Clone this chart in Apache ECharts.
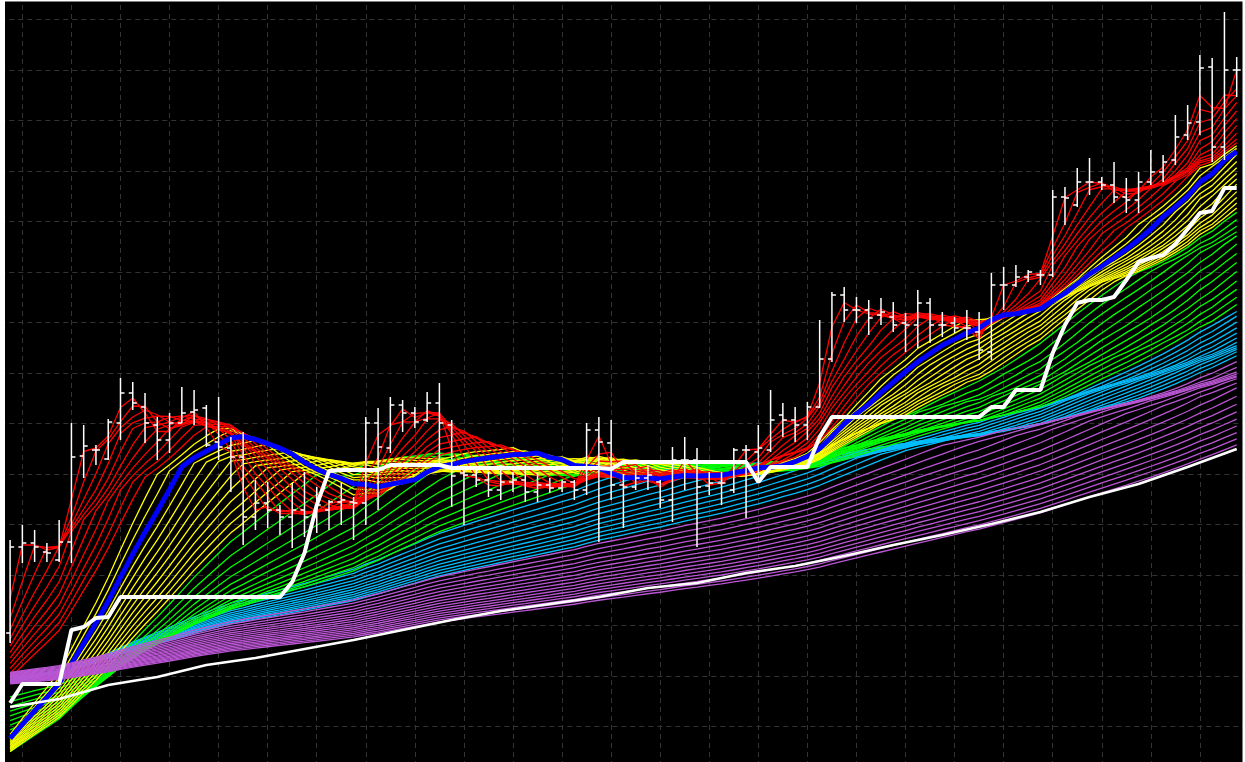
<!DOCTYPE html>
<html>
<head>
<meta charset="utf-8">
<title>Rainbow moving averages</title>
<script src="https://cdn.jsdelivr.net/npm/echarts@6/dist/echarts.min.js"></script>
<style>
  html, body { margin: 0; padding: 0; background: #fff; }
  #chart { width: 1245px; height: 762px; }
</style>
</head>
<body>
<div id="chart"></div>
<script>
// price bars, one entry per bar (price units, higher = up)
const OPEN = [
  167,253,257,248,240,258,344,350,341,377,
  407,393,375,360,377,388,392,358,352,343,
  283,297,290,283,290,283,290,298,298,297,
  377,352,395,387,380,397,375,327,325,320,
  310,318,320,308,315,312,318,310,370,357,
  315,313,322,318,300,340,340,314,317,310,
  350,348,350,385,380,375,393,441,505,490,
  490,485,483,477,475,497,475,477,472,468,
  448,515,515,523,525,525,603,595,618,618,
  615,603,600,618,628,640,665,678,733,653,
  730];
const HIGH = [
  260,275,270,257,280,377,375,355,381,422,
  418,407,383,387,413,410,395,403,363,368,
  320,318,295,317,328,313,300,317,303,383,
  392,403,400,393,408,417,380,333,330,328,
  335,328,335,328,322,320,320,377,383,380,
  326,333,335,320,353,363,352,328,328,352,
  355,375,410,397,393,398,480,508,513,503,
  500,502,498,487,510,502,488,483,490,488,
  527,533,535,530,530,610,613,632,642,623,
  638,622,628,650,645,685,695,745,742,788,
  743];
const LOW = [
  157,237,238,238,238,237,322,335,340,360,
  390,357,340,347,377,375,353,340,308,255,
  270,272,265,252,263,267,270,275,260,275,
  290,347,368,372,378,333,293,275,313,303,
  300,308,298,298,307,308,300,305,258,300,
  272,310,310,292,278,310,253,305,295,307,
  282,318,348,363,358,360,392,438,478,477,
  465,475,468,448,452,457,463,467,460,440,
  440,490,513,518,515,523,575,593,605,610,
  597,587,587,615,618,635,660,665,638,640,
  703];
const CLOSE = [
  253,257,253,247,258,343,354,350,378,407,
  397,377,360,377,387,390,355,353,343,283,
  297,290,283,290,283,295,298,300,297,377,
  353,395,387,378,397,377,324,325,320,310,
  318,320,308,315,312,318,310,370,358,315,
  313,322,325,300,340,340,313,317,317,350,
  350,352,380,380,375,393,441,505,490,490,
  482,488,475,475,497,475,475,472,472,450,
  515,515,523,528,525,603,602,618,618,615,
  603,600,618,628,638,663,677,732,653,730,
  730];

// thick white trailing line, one value per bar
const TRAIL = [
  97,116,116,116,116,170,173,182,183,203,
  203,203,203,203,203,203,203,203,203,203,
  203,203,203,218,247,295,329,330,330,330,
  330,335,335,335,335,335,332,332,332,332,
  332,332,332,332,332,332,332,332,332,331,
  338,338,338,338,338,338,338,338,338,338,
  338,318,333,333,333,333,363,383,383,383,
  383,383,383,383,383,383,383,383,383,383,
  393,393,410,410,410,447,475,497,500,500,
  503,520,538,542,545,556,571,587,589,612,
  612];

// slow white base line, read every 4th bar
const BASE_BAR = [0,4,8,12,16,20,24,28,32,36,40,44,48,52,56,60,64,68,72,76,80,84,88,92,96,100];
const BASE = [93,101,115,123,135,142,151,160,170,180,189,196,203,212,217,227,234,244,255,265,276,288,303,316,333,351];

// moving-average periods per colour band, and the level each band sat at before bar 0
const RED_P = [2,3,4,5,6,7,8,9,10,11,12];
const YELLOW_P = [13,14,16,17,18,19,20,21,22,23,24,25];
const BLUE_P = 15;
const GREEN_P = [26,28,30,32,34,36,38,40,42,44,46,48,50];
const CYAN_P = [52,54,56,58,60,62,64,66,68,70,72,74];
const PURPLE_P = [77,80,83,86,89,92,95,98,101,104,107,110,113,116,119,122,125];

const RED_BEFORE = [150, 110];
const YELLOW_BEFORE = [50, 40];
const BLUE_BEFORE = 48;
const GREEN_BEFORE = [40, 100];
const CYAN_BEFORE = [115, 120];
const PURPLE_BEFORE = [126, 115];

function sma(period, before) {
  const out = [];
  for (let i = 0; i < CLOSE.length; i++) {
    let sum = 0;
    for (let k = i - period + 1; k <= i; k++) sum += k < 0 ? before : CLOSE[k];
    out.push([i, +(sum / period).toFixed(2)]);
  }
  return out;
}

function lineSeries(data, color, width, z) {
  return {
    type: 'line', data, showSymbol: false, silent: true, z,
    lineStyle: { color, width },
  };
}

function band(periods, before, color, z) {
  const n = periods.length;
  return periods.map((p, j) => {
    const h = before[0] + (before[1] - before[0]) * (n > 1 ? j / (n - 1) : 0);
    return lineSeries(sma(p, h), color, 1.3, z);
  });
}

const chart = echarts.init(document.getElementById('chart'));

const gridLine = { show: true, lineStyle: { color: '#333', type: [5, 4], width: 1 } };
const hidden = { axisLine: { show: false }, axisTick: { show: false }, axisLabel: { show: false } };

chart.setOption({
  animation: false,
  backgroundColor: '#fff',
  grid: {
    left: -26.7, right: -3.97, top: -31, bottom: -15,
    show: true, backgroundColor: '#000', borderWidth: 0,
    outerBoundsMode: 'none',
  },
  xAxis: { type: 'value', min: -3, max: 101, interval: 4, splitLine: gridLine, ...hidden },
  yAxis: { type: 'value', min: 23, max: 831, interval: 50.5, splitLine: gridLine, ...hidden },
  series: [
    ...band(CYAN_P, CYAN_BEFORE, '#00bfff', 2),
    ...band(GREEN_P, GREEN_BEFORE, '#00ff00', 2),
    ...band(YELLOW_P, YELLOW_BEFORE, '#ffff00', 2),
    ...band(RED_P, RED_BEFORE, '#ff0000', 2),
    lineSeries(sma(BLUE_P, BLUE_BEFORE), '#0000ff', 5, 3),
    ...band(PURPLE_P, PURPLE_BEFORE, '#ba55d3', 3),
    lineSeries(BASE_BAR.map((b, i) => [b, BASE[i]]), '#fff', 2.5, 4),
    {
      type: 'custom',
      z: 5,
      silent: true,
      data: CLOSE.map((c, i) => [i, OPEN[i], HIGH[i], LOW[i], c]),
      encode: { x: 0, y: [1, 2, 3, 4] },
      renderItem: (params, api) => {
        const i = api.value(0);
        const [x, yh] = api.coord([i, api.value(2)]);
        const yl = api.coord([i, api.value(3)])[1];
        const yo = api.coord([i, api.value(1)])[1];
        const yc = api.coord([i, api.value(4)])[1];
        const style = { stroke: '#fff', lineWidth: 1.5 };
        return {
          type: 'group',
          children: [
            { type: 'line', shape: { x1: x, y1: yh, x2: x, y2: yl }, style },
            { type: 'line', shape: { x1: x - 4, y1: yo, x2: x, y2: yo }, style },
            { type: 'line', shape: { x1: x, y1: yc, x2: x + 4, y2: yc }, style },
          ],
        };
      },
    },
    lineSeries(TRAIL.map((v, i) => [i, v]), '#fff', 4, 6),
  ],
  graphic: [
    { type: 'rect', z: 100, silent: true, shape: { x: 0, y: 0, width: 5, height: 762 }, style: { fill: '#fff' } },
    { type: 'rect', z: 100, silent: true, shape: { x: 0, y: 0, width: 1245, height: 1.5 }, style: { fill: '#fff' } },
    { type: 'rect', z: 100, silent: true, shape: { x: 1242.5, y: 0, width: 3, height: 762 }, style: { fill: '#fff' } },
  ],
});
</script>
</body>
</html>
